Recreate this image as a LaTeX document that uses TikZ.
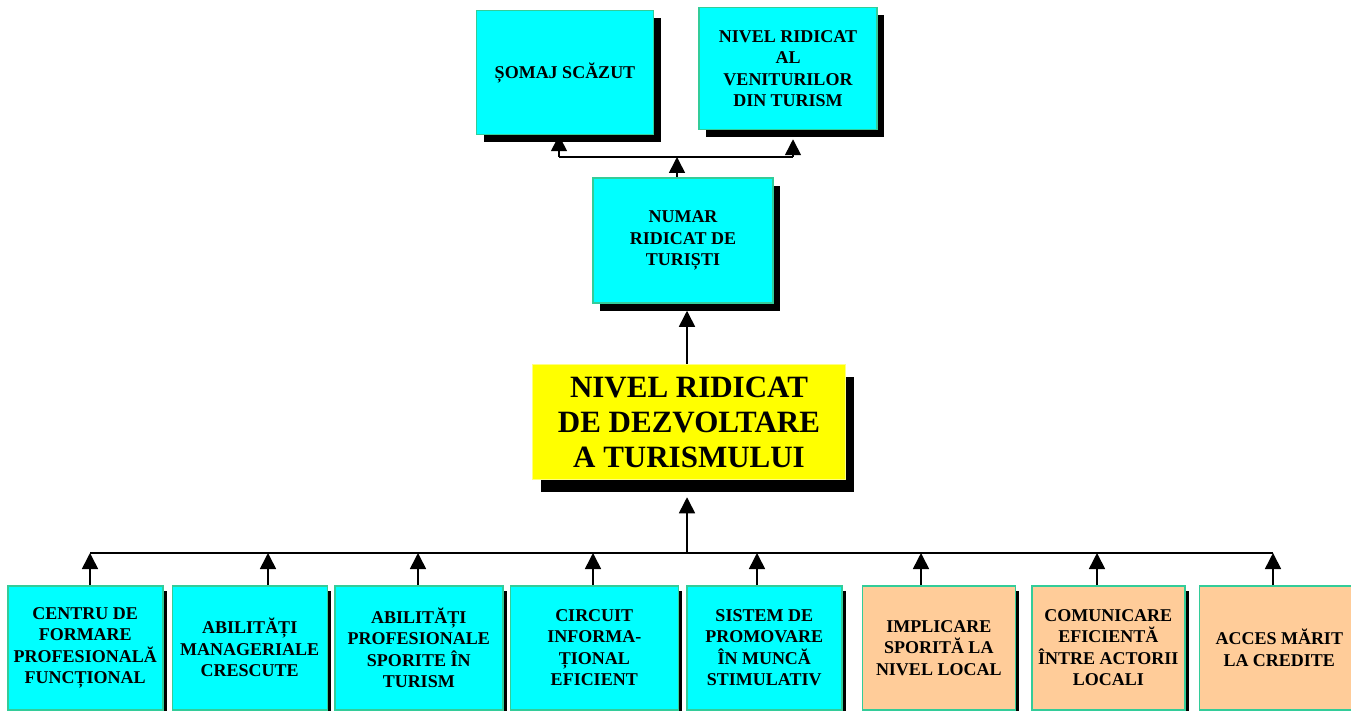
\documentclass[tikz,border=0pt]{standalone}
\usepackage{fontspec}
\setmainfont{Liberation Serif}
\usetikzlibrary{arrows.meta, positioning, shadows}
\definecolor{aqua}{RGB}{0,255,255}
\definecolor{rim}{RGB}{51,204,153}
\definecolor{peach}{RGB}{255,204,153}
\definecolor{sun}{RGB}{255,255,0}
\definecolor{sunrim}{RGB}{255,255,130}
\tikzset{%
	cell/.style={draw=rim, line width=1.5pt, rectangle, align=center, inner sep=2pt,%
		font=\fontsize{18}{21.5}\selectfont\bfseries},
	goal/.style={cell, fill=aqua,%
		drop shadow={shadow xshift=7pt, shadow yshift=-8pt, fill=black, opacity=1}},
	cause/.style={cell, fill=aqua, minimum height=124pt, anchor=north west,%
		drop shadow={shadow xshift=4pt, shadow yshift=-5pt, fill=black, opacity=1}},
	actor/.style={cause, fill=peach},
	core/.style={draw=sunrim, line width=1.5pt, fill=sun, align=center,%
		minimum width=313pt, minimum height=115pt,%
		font=\fontsize{31}{35}\selectfont\bfseries,%
		drop shadow={shadow xshift=8pt, shadow yshift=-12pt, fill=black, opacity=1}},
	link/.style={line width=1.6pt, draw=black},
	uparrow/.style={link, -{Triangle[width=16pt, length=16pt]}}
}
\begin{document}
\begin{tikzpicture}[x=1pt, y=-1pt]
	\useasboundingbox (0,0) rectangle (1351,711);
	\clip (0,0) rectangle (1351,711);

	\node[core] (dev) at (689,422) {NIVEL RIDICAT\\DE DEZVOLTARE\\A TURISMULUI};
	\node[goal, minimum width=180pt, minimum height=125pt, above=60pt of dev, xshift=-6pt] (tourists) {NUMAR\\RIDICAT DE\\TURIȘTI};
	\node[goal, minimum width=177pt, minimum height=124pt, above=42pt of tourists.north, xshift=-118pt] (unemp) {ȘOMAJ SCĂZUT};
	\node[goal, minimum width=178pt, minimum height=122pt, above=47pt of tourists.north, xshift=105pt] (income) {NIVEL RIDICAT\\AL\\VENITURILOR\\DIN TURISM};

	\node[cause, minimum width=155pt] (c1) at (7,585) {CENTRU DE\\FORMARE\\PROFESIONALĂ\\FUNCȚIONAL};
	\node[cause, minimum width=155pt, right=8pt of c1.north east, anchor=north west] (c2) {ABILITĂȚI\\MANAGERIALE\\CRESCUTE};
	\node[cause, minimum width=168pt, right=6pt of c2.north east, anchor=north west] (c3) {ABILITĂȚI\\PROFESIONALE\\SPORITE ÎN\\TURISM};
	\node[cause, minimum width=168pt, right=6pt of c3.north east, anchor=north west] (c4) {CIRCUIT\\INFORMA-\\ȚIONAL\\EFICIENT};
	\node[cause, minimum width=155pt, right=7pt of c4.north east, anchor=north west] (c5) {SISTEM DE\\PROMOVARE\\ÎN MUNCĂ\\STIMULATIV};
	\node[actor, minimum width=153pt, right=19pt of c5.north east, anchor=north west] (c6) {IMPLICARE\\SPORITĂ LA\\NIVEL LOCAL};
	\node[actor, minimum width=153pt, right=15pt of c6.north east, anchor=north west] (c7) {COMUNICARE\\EFICIENTĂ\\ÎNTRE ACTORII\\LOCALI};
	\node[actor, minimum width=160pt, right=13pt of c7.north east, anchor=north west] (c8) {ACCES MĂRIT\\LA CREDITE};

	\coordinate (tl) at (559,157);
	\coordinate (tc) at (677,157);
	\coordinate (tr) at (793,157);
	\coordinate (ac) at (687,553);
	\coordinate (a1) at (90,553);
	\coordinate (a2) at (268,553);
	\coordinate (a3) at (418,553);
	\coordinate (a4) at (593,553);
	\coordinate (a5) at (757,553);
	\coordinate (a6) at (921,553);
	\coordinate (a7) at (1097,553);
	\coordinate (a8) at (1273,553);

	\draw[link] (tl) -- (tr);
	\draw[uparrow] (tl) -- (unemp.south -| tl);
	\draw[uparrow, shorten >=9pt] (tr) -- (income.south -| tr);
	\draw[uparrow] (tourists.north -| tc) -- (tc);
	\draw[uparrow, shorten >=7pt] (dev.north -| ac) -- (tourists.south -| ac);
	\draw[uparrow, shorten >=17pt] (ac) -- (dev.south -| ac);

	\draw[link] (a1) -- (a8);
	\draw[uparrow] (c1.north -| a1) -- (a1);
	\draw[uparrow] (c2.north -| a2) -- (a2);
	\draw[uparrow] (c3.north -| a3) -- (a3);
	\draw[uparrow] (c4.north -| a4) -- (a4);
	\draw[uparrow] (c5.north -| a5) -- (a5);
	\draw[uparrow] (c6.north -| a6) -- (a6);
	\draw[uparrow] (c7.north -| a7) -- (a7);
	\draw[uparrow] (c8.north -| a8) -- (a8);
\end{tikzpicture}
\end{document}
